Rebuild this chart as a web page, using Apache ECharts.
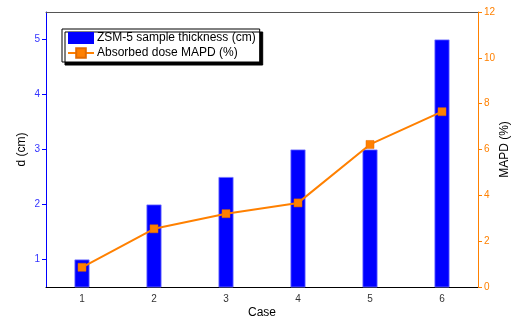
<!DOCTYPE html>
<html>
<head>
<meta charset="utf-8">
<script src="https://cdn.jsdelivr.net/npm/echarts@6/dist/echarts.min.js"></script>
<style>
  html, body { margin: 0; padding: 0; background: #fff; }
  #chart { width: 513px; height: 320px; }
</style>
</head>
<body>
<div id="chart"></div>
<script>
  // data
  var cases = ['1', '2', '3', '4', '5', '6']
  var thickness = [1, 2, 2.5, 3, 3, 5]
  var mapd = [0.86, 2.54, 3.2, 3.67, 6.22, 7.65]
  var dTicks = [1, 2, 3, 4, 5]

  var blue = '#0000ff'
  var orange = '#ff8000'
  var font = 'Liberation Sans, Arial, sans-serif'

  var chart = echarts.init(document.getElementById('chart'))
  var option = {
    animation: false,
    textStyle: { fontFamily: font },
    grid: { left: 46, right: 35, top: 12, bottom: 33, outerBoundsMode: 'none', containLabel: false },
    legend: {
      left: 62, top: 29,
      orient: 'vertical',
      itemWidth: 26, itemHeight: 12, itemGap: 3,
      padding: [3, 4, 3, 5],
      backgroundColor: '#fff',
      borderColor: '#000', borderWidth: 1,
      shadowColor: '#000', shadowBlur: 0, shadowOffsetX: 3, shadowOffsetY: 3,
      textStyle: { fontSize: 12, color: '#000', fontFamily: font, padding: [0, 0, 0, -2] },
      data: [
        { name: 'ZSM-5 sample thickness (cm)', icon: 'rect', itemStyle: { borderWidth: 0 } },
        { name: 'Absorbed dose MAPD (%)' }
      ]
    },
    xAxis: [
      {
        type: 'category', data: cases, position: 'bottom',
        name: 'Case', nameLocation: 'middle', nameGap: 20, nameMoveOverlap: false,
        nameTextStyle: { fontSize: 12, color: '#000' },
        axisLine: { lineStyle: { color: '#000', width: 1 } },
        axisTick: { alignWithLabel: true, length: 4, lineStyle: { color: '#000' } },
        axisLabel: { fontSize: 10, color: '#333', margin: 7 }
      },
      {
        type: 'category', data: cases, position: 'top',
        axisLine: { lineStyle: { color: '#555', width: 1 } },
        axisTick: { alignWithLabel: true, inside: true, length: 4, lineStyle: { color: '#000' } },
        axisLabel: { show: false }
      }
    ],
    yAxis: [
      {
        type: 'value', min: 0.5, max: 5.5,
        name: 'd (cm)', nameLocation: 'middle', nameGap: 18, nameMoveOverlap: false,
        nameTextStyle: { fontSize: 12, color: '#000' },
        axisLine: { show: true, lineStyle: { color: blue, width: 1 } },
        axisTick: { show: true, length: 4, customValues: dTicks, lineStyle: { color: blue } },
        axisLabel: { fontSize: 10, color: '#3333ff', margin: 6, customValues: dTicks },
        splitLine: { show: false }
      },
      {
        type: 'value', min: 0, max: 12, interval: 2, position: 'right',
        name: 'MAPD (%)', nameLocation: 'middle', nameGap: 21, nameRotate: 90, nameMoveOverlap: false,
        nameTextStyle: { fontSize: 12, color: '#000' },
        axisLine: { show: true, lineStyle: { color: orange, width: 1 } },
        axisTick: { show: true, length: 4, lineStyle: { color: orange } },
        axisLabel: { fontSize: 10, color: orange, margin: 6 },
        splitLine: { show: false }
      }
    ],
    series: [
      {
        name: 'ZSM-5 sample thickness (cm)', type: 'bar',
        data: thickness, barWidth: 15,
        itemStyle: { color: blue, borderColor: '#6f6fff', borderWidth: 0.8 }
      },
      {
        name: 'Absorbed dose MAPD (%)', type: 'line', yAxisIndex: 1,
        data: mapd, symbol: 'rect', symbolSize: 8,
        lineStyle: { color: orange, width: 2 },
        itemStyle: { color: orange, borderColor: '#e06a00', borderWidth: 0.5 }
      }
    ]
  }
  chart.setOption(option)
</script>
</body>
</html>
